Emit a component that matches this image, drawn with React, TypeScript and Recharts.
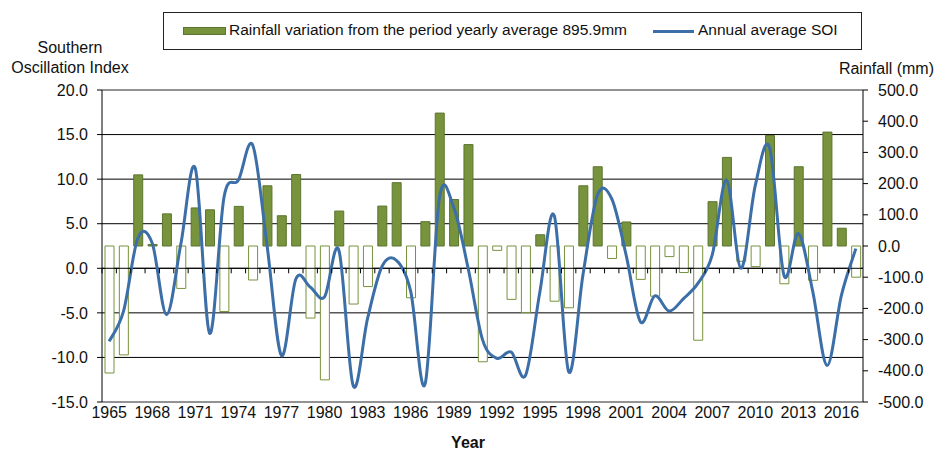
import React from "react";
import {
  ComposedChart,
  Bar,
  Line,
  XAxis,
  YAxis,
  CartesianGrid,
  ReferenceLine,
  Cell,
} from "recharts";

const years = [
  "1965", "1966", "1967", "1968", "1969", "1970", "1971", "1972", "1973", "1974",
  "1975", "1976", "1977", "1978", "1979", "1980", "1981", "1982", "1983", "1984",
  "1985", "1986", "1987", "1988", "1989", "1990", "1991", "1992", "1993", "1994",
  "1995", "1996", "1997", "1998", "1999", "2000", "2001", "2002", "2003", "2004",
  "2005", "2006", "2007", "2008", "2009", "2010", "2011", "2012", "2013", "2014",
  "2015", "2016", "2017",
];

// rainfall variation from the period yearly average (mm)
const rainfall = [
  -407, -349, 228, 5, 103, -136, 122, 116, -210, 127,
  -109, 193, 97, 229, -231, -429, 112, -186, -130, 128,
  203, -166, 78, 426, 149, 325, -371, -14, -171, -213,
  36, -177, -198, 193, 254, -40, 77, -107, -161, -34,
  -85, -302, 142, 284, -49, -66, 354, -121, 254, -110,
  365, 57, -100,
];

// annual average SOI
const soi = [
  -8.2, -4.8, 3.4, 2.8, -5.2, 2.8, 11.2, -7.3, 8.0, 9.9,
  13.8, 2.5, -9.8, -1.2, -2.1, -3.2, 2.0, -13.2, -5.6, 0.2,
  0.9, -2.6, -13.0, 7.9, 6.8, 0.0, -8.0, -10.1, -9.4, -12.0,
  -2.6, 5.9, -11.6, -0.7, 8.2, 7.8, 1.5, -6.0, -3.1, -4.8,
  -3.4, -1.7, 1.5, 9.9, 0.0, 9.3, 13.5, -0.8, 3.9, -2.6,
  -10.9, -3.0, 2.2,
];

const soiTicks = [-15, -10, -5, 0, 5, 10, 15, 20];
const rainTicks = [-500, -400, -300, -200, -100, 0, 100, 200, 300, 400, 500];

const data = years.map((year, i) => ({ year, rainfall: rainfall[i], soi: soi[i] }));

const W = 936;
const H = 452;
const TOP = 90;
const LEFT_W = 102;
const RIGHT_W = 73;
const X_H = 50;
const PLOT_H = H - TOP - X_H;
const BAND = (W - LEFT_W - RIGHT_W) / years.length;
const ZERO_Y = TOP + (20 / 35) * PLOT_H;

const GREEN = "#77933C";
const GREEN_DARK = "#5C7530";
const BLUE = "#3C6EA8";
const FONT = "'Liberation Sans', Arial, sans-serif";

// Excel-like smoothed line (uniform Catmull-Rom through the points)
const excelSmooth = (context: any) => {
  let pts: number[][] = [];
  return {
    areaStart() {},
    areaEnd() {},
    lineStart() {
      pts = [];
    },
    point(x: number, y: number) {
      pts.push([+x, +y]);
    },
    lineEnd() {
      if (!pts.length) return;
      context.moveTo(pts[0][0], pts[0][1]);
      for (let i = 0; i < pts.length - 1; i++) {
        const p0 = pts[Math.max(i - 1, 0)];
        const p1 = pts[i];
        const p2 = pts[i + 1];
        const p3 = pts[Math.min(i + 2, pts.length - 1)];
        context.bezierCurveTo(
          p1[0] + (p2[0] - p0[0]) / 6,
          p1[1] + (p2[1] - p0[1]) / 6,
          p2[0] - (p3[0] - p1[0]) / 6,
          p2[1] - (p3[1] - p1[1]) / 6,
          p2[0],
          p2[1]
        );
      }
    },
  };
};

const YearTick = (props: any) => {
  const { x, payload, index } = props;
  return (
    <g>
      <line x1={x - BAND / 2} x2={x - BAND / 2} y1={ZERO_Y} y2={ZERO_Y + 5} stroke="#000" />
      {index % 3 === 0 && (
        <text x={x} y={H - X_H + 16} textAnchor="middle" fontSize={16} fill="#111" fontFamily={FONT}>
          {payload.value}
        </text>
      )}
    </g>
  );
};

const tickStyle = { fontSize: 16, fill: "#111", fontFamily: FONT };

export default function App() {
  return (
    <div style={{ position: "absolute", left: 0, top: 0, width: W, height: H, fontFamily: FONT, color: "#111", overflow: "hidden" }}>
      <ComposedChart width={W} height={H} data={data} margin={{ top: TOP, right: 0, bottom: 0, left: 0 }}>
        <CartesianGrid yAxisId="soi" vertical={false} stroke="#000" />
        <XAxis
          dataKey="year"
          interval={0}
          height={X_H}
          tickLine={false}
          axisLine={{ stroke: "#A6A6A6" }}
          tick={<YearTick />}
        />
        <YAxis
          yAxisId="soi"
          orientation="left"
          width={LEFT_W}
          domain={[-15, 20]}
          ticks={soiTicks}
          tickFormatter={(v: number) => v.toFixed(1)}
          tickSize={5}
          tickMargin={9}
          tick={tickStyle}
          axisLine={{ stroke: "#000" }}
          tickLine={{ stroke: "#000" }}
        />
        <YAxis
          yAxisId="rain"
          orientation="right"
          width={RIGHT_W}
          domain={[-500, 500]}
          ticks={rainTicks}
          tickFormatter={(v: number) => v.toFixed(1)}
          tickSize={5}
          tickMargin={10}
          tick={{ ...tickStyle, textAnchor: "start" }}
          axisLine={{ stroke: "#000" }}
          tickLine={{ stroke: "#000" }}
        />
        <ReferenceLine yAxisId="soi" y={20} stroke="#A6A6A6" />
        <Bar yAxisId="rain" dataKey="rainfall" barSize={9} isAnimationActive={false}>
          {data.map((d, i) => (
            <Cell
              key={i}
              fill={d.rainfall >= 0 ? GREEN : "#fff"}
              stroke={d.rainfall >= 0 ? GREEN_DARK : GREEN}
              strokeWidth={1}
            />
          ))}
        </Bar>
        <ReferenceLine yAxisId="soi" y={0} stroke="#000" />
        <Line
          yAxisId="soi"
          dataKey="soi"
          type={excelSmooth as any}
          stroke={BLUE}
          strokeWidth={3}
          dot={false}
          isAnimationActive={false}
        />
      </ComposedChart>

      <div
        style={{
          position: "absolute",
          left: 163,
          top: 12,
          width: 699,
          height: 38,
          border: "1px solid #222",
          boxSizing: "border-box",
          fontSize: 15.5,
        }}
      >
        <div style={{ position: "absolute", left: 19, top: 14, width: 43, height: 8, background: GREEN, border: `1px solid ${GREEN_DARK}`, boxSizing: "border-box" }} />
        <div style={{ position: "absolute", left: 65, top: 8, lineHeight: "18px", whiteSpace: "nowrap" }}>
          Rainfall variation from the period yearly average 895.9mm
        </div>
        <div style={{ position: "absolute", left: 489, top: 17, width: 41, height: 3, background: BLUE }} />
        <div style={{ position: "absolute", left: 534, top: 8, lineHeight: "18px", whiteSpace: "nowrap" }}>Annual average SOI</div>
      </div>

      <div style={{ position: "absolute", left: 0, top: 38, width: 140, textAlign: "center", fontSize: 16, lineHeight: "20px" }}>
        Southern
        <br />
        Oscillation Index
      </div>
      <div style={{ position: "absolute", right: 2, top: 60, fontSize: 16, lineHeight: "18px" }}>Rainfall (mm)</div>
      <div style={{ position: "absolute", left: 0, width: W, top: 435, textAlign: "center", fontSize: 16, fontWeight: "bold", lineHeight: "16px" }}>
        Year
      </div>
    </div>
  );
}
